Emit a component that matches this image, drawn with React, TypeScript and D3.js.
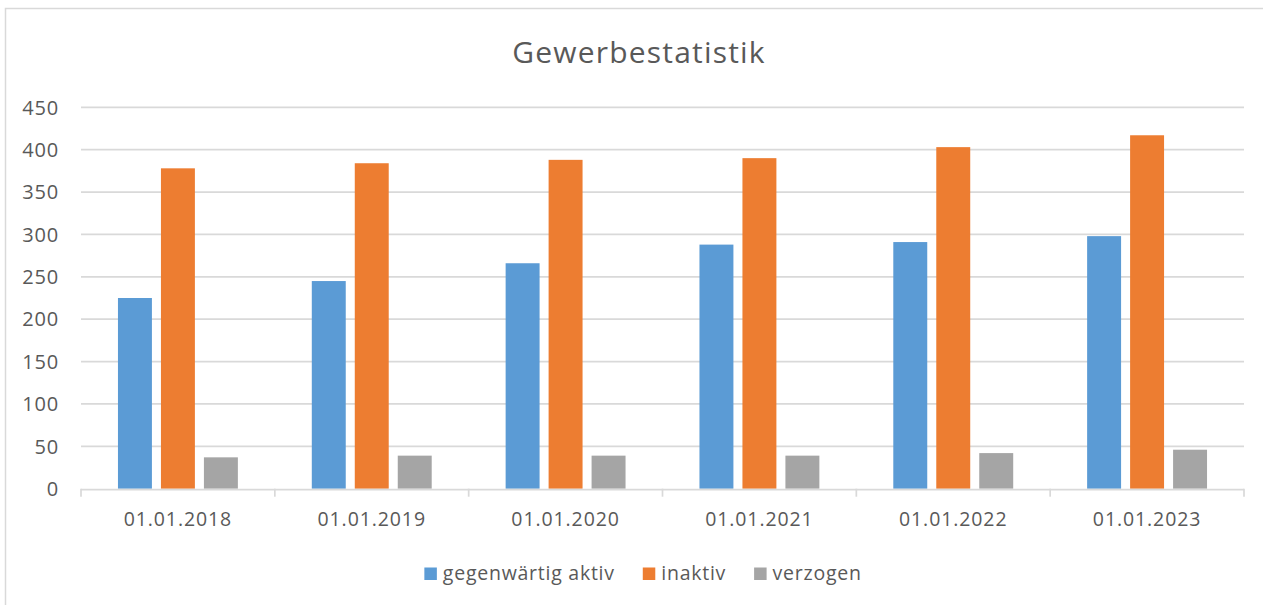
import React, { useEffect, useRef } from "react";
import * as d3 from "d3";

const categories = ["01.01.2018", "01.01.2019", "01.01.2020", "01.01.2021", "01.01.2022", "01.01.2023"];
const seriesNames = ["gegenwärtig aktiv", "inaktiv", "verzogen"];
const aktiv = [225, 245, 266, 288, 291, 298];
const inaktiv = [378, 384, 388, 390, 403, 417];
const verzogen = [37, 39, 39, 39, 42, 46];
const yTicks = [0, 50, 100, 150, 200, 250, 300, 350, 400, 450];
const colors = ["#5b9bd5", "#ed7d31", "#a5a5a5"];

const W = 1263;
const H = 605;
const textColor = "#595959";
const gridColor = "#d9d9d9";
const font = "'Open Sans', 'Segoe UI', sans-serif";

const App = () => {
  const ref = useRef<SVGSVGElement>(null);

  useEffect(() => {
    const svg = d3.select(ref.current);
    svg.selectAll("*").remove();

    const values = [aktiv, inaktiv, verzogen];
    const rows = categories.map((c, i) => ({
      cat: c,
      vals: seriesNames.map((s, j) => ({ name: s, value: values[j][i], color: colors[j] })),
    }));

    const left = 81;
    const right = 1244;
    const top = 107.3;
    const bottom = 488.7;

    const x0 = d3.scaleBand().domain(categories).range([left, right]).padding(0);
    const x1 = d3
      .scaleBand()
      .domain(seriesNames)
      .range([0, x0.step()])
      .paddingInner(0.21)
      .paddingOuter(0.86);
    const y = d3.scaleLinear().domain([0, 450]).range([bottom, top]);

    // chart border (runs off the right / bottom edge)
    svg
      .append("rect")
      .attr("x", 5.5)
      .attr("y", 8.5)
      .attr("width", W + 20)
      .attr("height", H + 20)
      .attr("fill", "white")
      .attr("stroke", gridColor)
      .attr("stroke-width", 1.5);

    svg
      .append("text")
      .attr("x", 639)
      .attr("y", 63.3)
      .attr("text-anchor", "middle")
      .attr("fill", textColor)
      .style("font-family", font)
      .style("font-size", "30px")
      .style("letter-spacing", "1.2px")
      .text("Gewerbestatistik");

    // gridlines
    svg
      .append("g")
      .selectAll("line")
      .data(yTicks.filter((t) => t > 0))
      .enter()
      .append("line")
      .attr("x1", left)
      .attr("x2", right)
      .attr("y1", (d) => y(d))
      .attr("y2", (d) => y(d))
      .attr("stroke", gridColor)
      .attr("stroke-width", 1.7);

    svg
      .append("g")
      .selectAll("text")
      .data(yTicks)
      .enter()
      .append("text")
      .attr("x", 59)
      .attr("y", (d) => y(d))
      .attr("dy", "0.36em")
      .attr("text-anchor", "end")
      .attr("fill", textColor)
      .style("font-family", font)
      .style("font-size", "20px")
      .style("letter-spacing", "0.8px")
      .text((d) => d);

    // bars
    svg
      .append("g")
      .selectAll("g")
      .data(rows)
      .enter()
      .append("g")
      .attr("transform", (d) => `translate(${x0(d.cat)},0)`)
      .selectAll("rect")
      .data((d) => d.vals)
      .enter()
      .append("rect")
      .attr("x", (d) => x1(d.name) as number)
      .attr("width", x1.bandwidth())
      .attr("y", (d) => y(d.value))
      .attr("height", (d) => bottom - y(d.value))
      .attr("fill", (d) => d.color);

    // x axis line + ticks
    const axis = svg.append("g");
    axis
      .append("line")
      .attr("x1", left)
      .attr("x2", right)
      .attr("y1", bottom + 1)
      .attr("y2", bottom + 1)
      .attr("stroke", gridColor)
      .attr("stroke-width", 1.7);
    const tickX = categories.map((c) => x0(c) as number).concat([right]);
    axis
      .selectAll("line.tick")
      .data(tickX)
      .enter()
      .append("line")
      .attr("class", "tick")
      .attr("x1", (d) => d)
      .attr("x2", (d) => d)
      .attr("y1", bottom)
      .attr("y2", bottom + 8)
      .attr("stroke", gridColor)
      .attr("stroke-width", 1.7);
    axis
      .selectAll("text")
      .data(categories)
      .enter()
      .append("text")
      .attr("x", (d) => (x0(d) as number) + x0.bandwidth() / 2)
      .attr("y", 525.7)
      .attr("text-anchor", "middle")
      .attr("fill", textColor)
      .style("font-family", font)
      .style("font-size", "19.5px")
      .style("letter-spacing", "0.9px")
      .text((d) => d);

    // legend, centred under the plot
    const legend = svg.append("g");
    const items = legend
      .selectAll("g")
      .data(seriesNames)
      .enter()
      .append("g");
    items
      .append("rect")
      .attr("width", 12.5)
      .attr("height", 12.5)
      .attr("y", 567.5)
      .attr("fill", (d, i) => colors[i]);
    items
      .append("text")
      .attr("x", 18.5)
      .attr("y", 580)
      .attr("fill", textColor)
      .style("font-family", font)
      .style("font-size", "19.5px")
      .style("letter-spacing", "0.75px")
      .text((d) => d);
    const widths: number[] = [];
    items.each(function () {
      const t = (this as SVGGElement).querySelector("text") as SVGTextElement;
      widths.push(18.5 + t.getComputedTextLength());
    });
    const gap = 28;
    const total = d3.sum(widths) + gap * (widths.length - 1);
    let cx = 643 - total / 2;
    items.attr("transform", (d, i) => {
      const pos = cx;
      cx += widths[i] + gap;
      return `translate(${pos},0)`;
    });
  }, []);

  return (
    <svg
      ref={ref}
      width={W}
      height={H}
      style={{ position: "absolute", left: 0, top: 0, display: "block", background: "white" }}
    ></svg>
  );
};

export default App;
